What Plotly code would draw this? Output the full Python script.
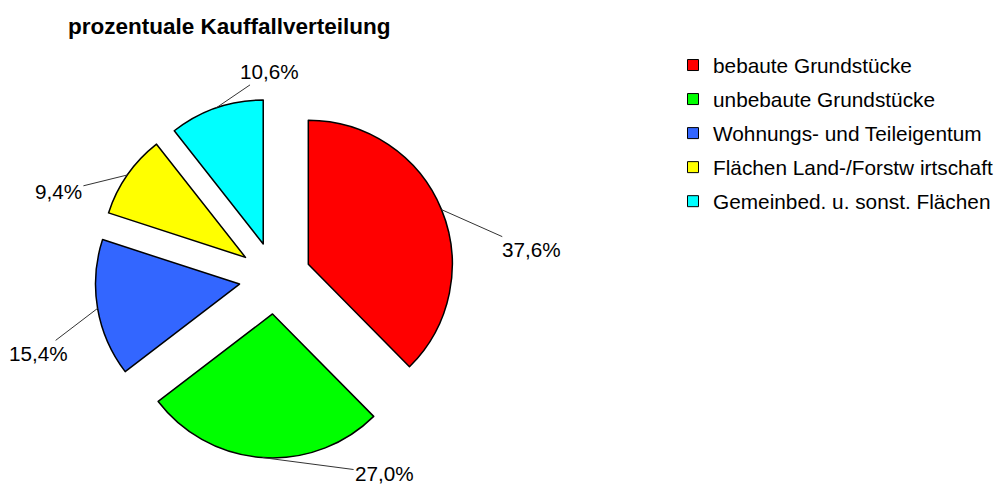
import math
import plotly.graph_objects as go

# ---- data ----
labels = ["bebaute Grundstücke", "unbebaute Grundstücke", "Wohnungs- und Teileigentum",
          "Flächen Land-/Forstw irtschaft", "Gemeinbed. u. sonst. Flächen"]
values = [37.6, 27.0, 15.4, 9.4, 10.6]
value_text = ["37,6%", "27,0%", "15,4%", "9,4%", "10,6%"]
colors = ["#FF0000", "#00FF00", "#3366FF", "#FFFF00", "#00FFFF"]

# ---- layout / style ----
W, H = 999, 486
PULL = 0.25
cx, cy, box = 275, 278, 360          # pie box centre and side (pixels)
label_offsets = [(90, 40), (122, 16), (-59, 45), (-69, 17), (53, -36)]  # text offset from leader-line head

fig = go.Figure()
fig.add_trace(go.Pie(
    labels=labels, values=values, sort=False, direction="clockwise", rotation=0,
    pull=[PULL] * len(values),
    marker=dict(colors=colors, line=dict(color="black", width=1.5)),
    textinfo="none", hoverinfo="label+percent", showlegend=False,
    domain=dict(x=[(cx - box / 2) / W, (cx + box / 2) / W],
                y=[1 - (cy + box / 2) / H, 1 - (cy - box / 2) / H]),
))

# legend entries
for i, (lab, col) in enumerate(zip(labels, colors)):
    fig.add_trace(go.Scatter(
        x=[None], y=[None], mode="markers", name=lab, legendgroup=f"g{i}",
        marker=dict(symbol="square", size=11, color=col, line=dict(color="black", width=1)),
    ))

# leader-line labels computed from slice geometry
total = sum(values)
R = box / 2  # r*(1+pull)
cum = 0.0
annotations = []
for v, t, (ax, ay) in zip(values, value_text, label_offsets):
    mid = (cum + v / 2) / total * 2 * math.pi
    cum += v
    hx = cx + R * math.sin(mid)
    hy = cy - R * math.cos(mid)
    annotations.append(dict(
        x=hx / W, y=1 - hy / H, xref="paper", yref="paper", text=t,
        showarrow=True, arrowhead=0, arrowwidth=1, arrowcolor="#333333",
        ax=ax, ay=ay, font=dict(size=20.7, color="black"),
    ))

fig.update_layout(
    width=W, height=H,
    margin=dict(l=0, r=0, t=0, b=0),
    paper_bgcolor="white", plot_bgcolor="white",
    font=dict(family="Liberation Sans, Arial, sans-serif", color="black"),
    title=dict(text="<b>prozentuale Kauffallverteilung</b>", x=68 / W, xanchor="left",
               y=1 - 26 / H, yanchor="middle", font=dict(size=22.5, color="black")),
    xaxis=dict(visible=False), yaxis=dict(visible=False),
    legend=dict(x=673 / W, xanchor="left", y=1 - 45 / H, yanchor="top",
                font=dict(size=20.8, color="black"), tracegroupgap=4,
                bgcolor="rgba(0,0,0,0)"),
    annotations=annotations,
)

fig.write_html("out.html", config={"displayModeBar": False},
               post_script="document.body.style.margin='0';document.body.style.overflow='hidden';")
